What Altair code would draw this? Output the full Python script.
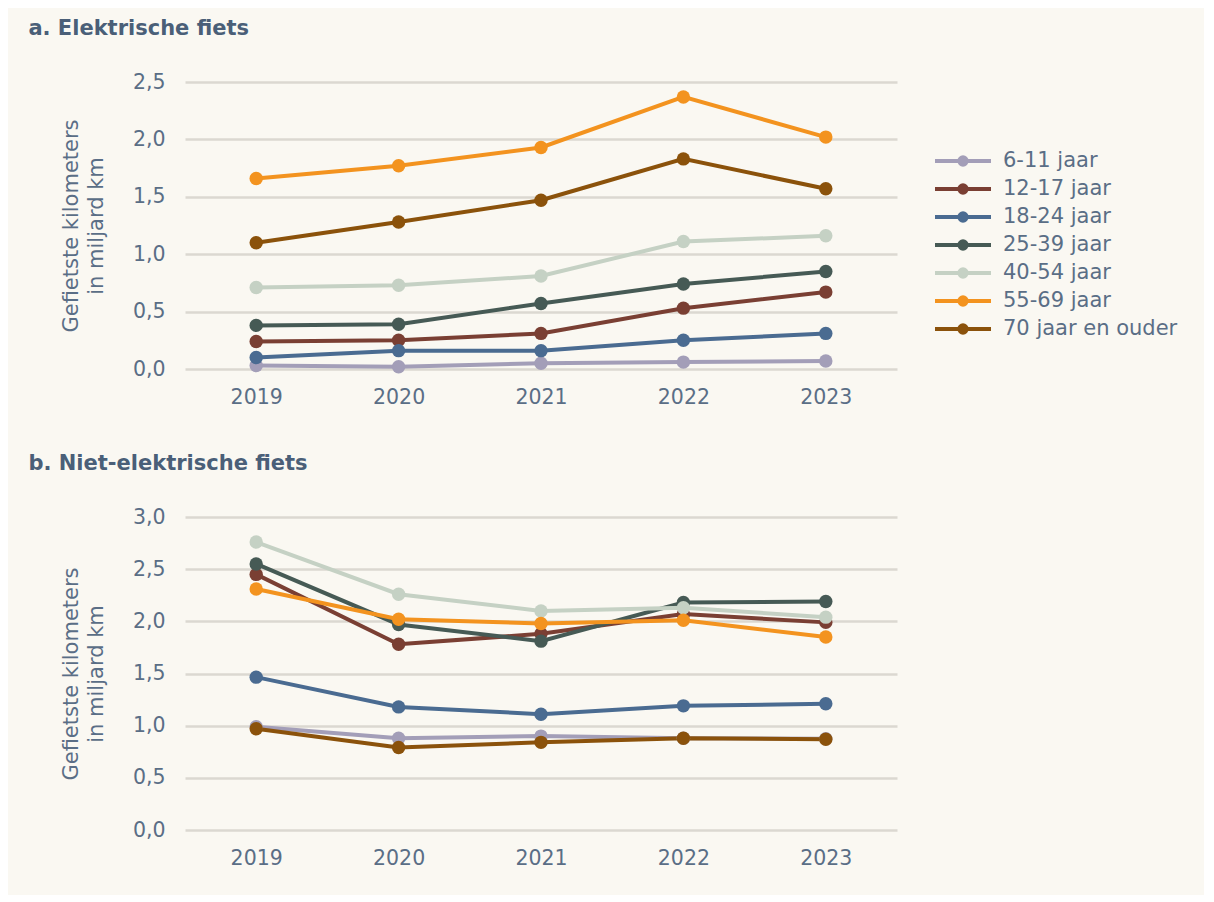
import altair as alt
import pandas as pd

years = ["2019", "2020", "2021", "2022", "2023"]
groups = ["6-11 jaar", "12-17 jaar", "18-24 jaar", "25-39 jaar",
          "40-54 jaar", "55-69 jaar", "70 jaar en ouder"]
colors = ["#a39eb8", "#7a3f33", "#4a6b91", "#465a55",
          "#c5d1c4", "#f3931f", "#8b520b"]

# a. Elektrische fiets (miljard km)
e_6_11 = [0.03, 0.02, 0.05, 0.06, 0.07]
e_12_17 = [0.24, 0.25, 0.31, 0.53, 0.67]
e_18_24 = [0.10, 0.16, 0.16, 0.25, 0.31]
e_25_39 = [0.38, 0.39, 0.57, 0.74, 0.85]
e_40_54 = [0.71, 0.73, 0.81, 1.11, 1.16]
e_55_69 = [1.66, 1.77, 1.93, 2.37, 2.02]
e_70 = [1.10, 1.28, 1.47, 1.83, 1.57]

# b. Niet-elektrische fiets (miljard km)
n_6_11 = [0.99, 0.88, 0.90, 0.88, 0.875]
n_12_17 = [2.45, 1.78, 1.88, 2.07, 1.99]
n_18_24 = [1.465, 1.18, 1.11, 1.19, 1.21]
n_25_39 = [2.55, 1.97, 1.81, 2.18, 2.19]
n_40_54 = [2.76, 2.26, 2.10, 2.13, 2.04]
n_55_69 = [2.31, 2.02, 1.98, 2.01, 1.85]
n_70 = [0.97, 0.79, 0.84, 0.88, 0.87]

e_series = [e_6_11, e_12_17, e_18_24, e_25_39, e_40_54, e_55_69, e_70]
n_series = [n_6_11, n_12_17, n_18_24, n_25_39, n_40_54, n_55_69, n_70]


def frame(series):
    rows = []
    for g, vals in zip(groups, series):
        for y, v in zip(years, vals):
            rows.append({"jaar": y, "groep": g, "km": v})
    return pd.DataFrame(rows)


FONT = "DejaVu Sans"
TXT = "#5a6e86"
TITLE = "#4a5f78"
BG = "#faf8f2"
FS = 20.5

# legend symbol (stroked): a line with a dot in the middle, spanning [-2, 2]
SYM = ("M-2,0H2"
       "M-0.26,0A0.26,0.26 0 1,1 0.26,0A0.26,0.26 0 1,1 -0.26,0Z"
       "M-0.1,0A0.1,0.1 0 1,1 0.1,0A0.1,0.1 0 1,1 -0.1,0Z")

cscale = alt.Scale(domain=groups, range=colors)


def panel(series, title, ymax, height, show_legend):
    df = frame(series)
    x = alt.X("jaar:O", title=None, sort=years,
              scale=alt.Scale(paddingOuter=0.5),
              axis=alt.Axis(labelAngle=0, domain=False, ticks=False,
                            labelPadding=18, labelFontSize=FS,
                            labelColor=TXT, labelFont=FONT, grid=False))
    y = alt.Y("km:Q", scale=alt.Scale(domain=[0, ymax], nice=False),
              title=["Gefietste kilometers", "in miljard km"],
              axis=alt.Axis(values=[i * 0.5 for i in range(int(ymax * 2) + 1)],
                            labelExpr="replace(format(datum.value, '.1f'), '.', ',')",
                            domain=False, ticks=False, labelPadding=20,
                            labelFontSize=FS, labelColor=TXT, labelFont=FONT,
                            titleFontSize=21, titleFont=FONT, titleColor=TXT,
                            titleFontWeight="normal", titlePadding=26,
                            titleLineHeight=25,
                            gridColor="#dbd8d1", gridWidth=2.5))
    if show_legend:
        leg = alt.Legend(title=None, orient="none", legendX=762, legendY=63,
                         symbolType=SYM, symbolSize=784, symbolStrokeWidth=4,
                         labelFontSize=21, labelColor=TXT, labelFont=FONT,
                         rowPadding=0, labelOffset=24, labelLimit=300,
                         padding=0)
    else:
        leg = None
    lines = alt.Chart(df).mark_line(
        strokeWidth=4,
        point=alt.OverlayMarkDef(filled=True, size=180, opacity=1),
    ).encode(
        x=x, y=y,
        color=alt.Color("groep:N", scale=cscale, sort=groups, legend=leg),
        order=alt.Order("jaar:O"),
    )
    return lines.properties(
        width=712, height=height,
        title=alt.TitleParams(title, anchor="start", frame="bounds",
                              fontSize=21, font=FONT, fontWeight="bold",
                              color=TITLE, dx=-32, offset=33),
    )


top = panel(e_series, "a. Elektrische fiets", 2.5, 287, True)
bottom = panel(n_series, "b. Niet-elektrische fiets", 3.0, 313, False)

chart = alt.vconcat(top, bottom, spacing=45).resolve_scale(
    color="independent"
).configure(background=BG, padding={"left": 20, "top": 10, "right": 26, "bottom": 26}
).configure_view(stroke=None)

chart.save("out.html", embed_options={"renderer": "svg", "actions": False})
